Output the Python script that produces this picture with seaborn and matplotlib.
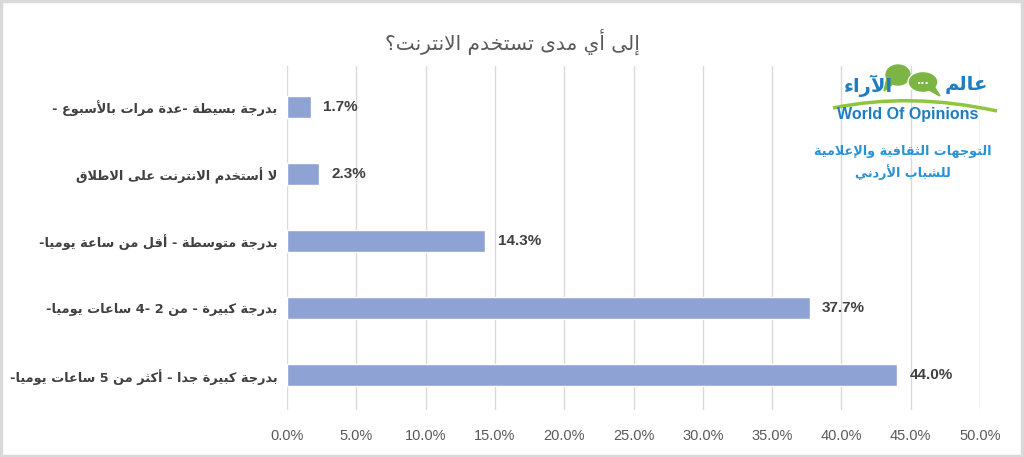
import re
import matplotlib
matplotlib.use('Agg')
import matplotlib.pyplot as plt
import seaborn as sns
from matplotlib.patches import Ellipse, Polygon, PathPatch, Rectangle
from matplotlib.path import Path

# data, top bar first
categories = [
    'بدرجة بسيطة -عدة مرات بالأسبوع -',
    'لا أستخدم الانترنت على الاطلاق',
    'بدرجة متوسطة - أقل من ساعة يوميا-',
    'بدرجة كبيرة - من 2 -4 ساعات يوميا-',
    'بدرجة كبيرة جدا - أكثر من 5 ساعات يوميا-',
]
values = [1.7, 2.3, 14.3, 37.7, 44.0]
x_ticks = [0, 5, 10, 15, 20, 25, 30, 35, 40, 45, 50]
title = 'إلى أي مدى تستخدم الانترنت؟'
logo_ar = ['عالم', 'الآراء']
logo_en = 'World Of Opinions'
subtitle = ['التوجهات الثقافية والإعلامية', 'للشباب الأردني']

BAR = '#8FA2D4'
DARK = '#404040'
GRAY = '#595959'
BLUE = '#1F7DC1'
GREEN = '#7DB544'

# minimal arabic shaping (matplotlib has no shaping/bidi)
AR_LETTERS = 'ءآأؤإئابةتثجحخدذرزسشصضطظعغفقكلمنهوىي'
AR_NFORMS = [1, 2, 2, 2, 2, 4, 2, 4, 2, 4, 4, 4, 4, 4, 2, 2, 2, 2,
             4, 4, 4, 4, 4, 4, 4, 4, 4, 4, 4, 4, 4, 4, 4, 2, 2, 4]
FORMS = {}
cp = 0xFE80
for ch, n in zip(AR_LETTERS, AR_NFORMS):
    FORMS[ch] = [chr(cp + i) for i in range(n)]
    cp += n
LAM_ALEF = {'آ': 0xFEF5, 'أ': 0xFEF7, 'إ': 0xFEF9, 'ا': 0xFEFB}


def joins_next(u):
    return u[0] in FORMS and len(FORMS[u[0]]) == 4


def is_letter(u):
    return u[0] == 'LA' or (u[0] in FORMS and len(FORMS[u[0]]) > 1)


def shape(text):
    units = []
    i = 0
    while i < len(text):
        if text[i] == 'ل' and i + 1 < len(text) and text[i + 1] in LAM_ALEF:
            units.append(('LA', text[i + 1]))
            i += 2
        else:
            units.append((text[i], None))
            i += 1
    out = []
    for k, u in enumerate(units):
        prev = units[k - 1] if k > 0 else None
        nxt = units[k + 1] if k + 1 < len(units) else None
        jp = prev is not None and joins_next(prev) and is_letter(u)
        if u[0] == 'LA':
            out.append(chr(LAM_ALEF[u[1]] + (1 if jp else 0)))
            continue
        if u[0] not in FORMS:
            out.append(u[0])
            continue
        forms = FORMS[u[0]]
        jn = joins_next(u) and nxt is not None and is_letter(nxt)
        if len(forms) == 1:
            out.append(forms[0])
        elif jp and jn:
            out.append(forms[3])
        elif jp:
            out.append(forms[1])
        elif jn:
            out.append(forms[2])
        else:
            out.append(forms[0])
    s = ''.join(out)
    runs = re.findall(r'[0-9A-Za-z.%]+|[^0-9A-Za-z.%]+', s)
    return ''.join(r if re.match(r'[0-9A-Za-z]', r) else r[::-1] for r in reversed(runs))


sns.set_theme(style='white')
plt.rcParams['font.family'] = ['DejaVu Sans']

W, H = 1024, 457
fig = plt.figure(figsize=(W / 100, H / 100), dpi=100)
ax = fig.add_axes([287 / W, 1 - 410 / H, 693 / W, 344 / H])

df_labels = [shape(c) for c in categories]
sns.barplot(x=values, y=df_labels, color=BAR, width=0.33, saturation=1, ax=ax)

ax.set_xlim(0, 50)
ax.set_ylim(4.52, -0.61)
ax.set_xticks(x_ticks)
ax.set_xticklabels([f'{t:.1f}%' for t in x_ticks], color=GRAY, fontsize=10.5,
                   fontfamily='Liberation Sans')
ax.tick_params(axis='x', length=0, pad=14)
ax.tick_params(axis='y', length=0, pad=7)
for lab in ax.get_yticklabels():
    lab.set_fontweight('bold')
    lab.set_color(DARK)
    lab.set_fontsize(9.3)
ax.grid(axis='x', color='#D9D9D9', lw=1)
ax.set_axisbelow(True)
for sp in ax.spines.values():
    sp.set_visible(False)
ax.set_xlabel('')
ax.set_ylabel('')

for i, v in enumerate(values):
    ax.text(v + 0.9, i, f'{v:.1f}%', va='center', ha='left', fontsize=11,
            fontweight='bold', color=DARK, fontfamily='Liberation Sans')

fig.text(0.5, 1 - 42 / H, shape(title), ha='center', va='center',
         fontsize=14.5, color=GRAY)

# logo, drawn on an overlay in pixel coordinates
ov = fig.add_axes([0, 0, 1, 1], facecolor='none')
ov.set_xlim(0, W)
ov.set_ylim(H, 0)
ov.axis('off')
ov.add_patch(Ellipse((898, 75), 24, 20, color=GREEN))
ov.add_patch(Polygon([(887, 78), (894, 83), (884, 91)], color=GREEN))
ov.add_patch(Ellipse((923, 82), 30, 21, color=GREEN, ec='white', lw=1))
ov.add_patch(Polygon([(927, 89), (934, 86), (940, 96)], color=GREEN))
ov.text(923, 81, '...', ha='center', va='center', color='white', fontsize=8,
        fontweight='bold')
arc = Path([(833, 108), (910, 92), (997, 111)], [Path.MOVETO, Path.CURVE3, Path.CURVE3])
ov.add_patch(PathPatch(arc, fc='none', ec='#8DC63F', lw=2.5))
ov.text(966, 84, shape(logo_ar[0]), ha='center', va='center', fontsize=14,
        fontweight='bold', color=BLUE)
ov.text(868, 86, shape(logo_ar[1]), ha='center', va='center', fontsize=14,
        fontweight='bold', color=BLUE)
ov.text(908, 114, logo_en, ha='center', va='center', fontsize=11.5,
        fontweight='bold', color=BLUE, fontfamily='Liberation Sans')
ov.text(903, 151, shape(subtitle[0]), ha='center', va='center', fontsize=9.2,
        fontweight='bold', color='#2A92D3')
ov.text(903, 172, shape(subtitle[1]), ha='center', va='center', fontsize=9.2,
        fontweight='bold', color='#2A92D3')

fig.add_artist(Rectangle((0.001, 0.002), 0.997, 0.995, transform=fig.transFigure,
                         fill=False, ec='#D9D9D9', lw=2.5))

fig.savefig('out.png', dpi=100)
